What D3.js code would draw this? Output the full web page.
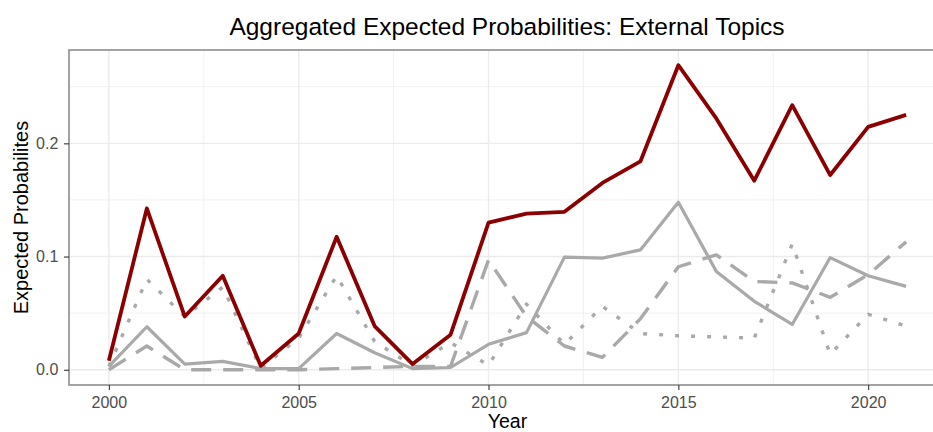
<!DOCTYPE html>
<html>
<head>
<meta charset="utf-8">
<script src="https://cdn.jsdelivr.net/npm/d3@7"></script>
<style>
  html, body { margin: 0; padding: 0; background: #fff; }
  svg { display: block; font-family: "Liberation Sans", Arial, sans-serif; }
</style>
</head>
<body>
<svg id="chart" width="933" height="432"></svg>
<script>
const years = d3.range(2000, 2022);
const seriesRed    = [0.008,0.1425,0.047,0.083,0.0035,0.032,0.1175,0.0386,0.005,0.031,0.130,0.138,0.1395,0.165,0.184,0.269,0.222,0.167,0.2337,0.172,0.2146,0.2252];
const seriesSolid  = [0.003,0.038,0.005,0.0074,0.001,0.001,0.032,0.015,0.001,0.002,0.0225,0.0328,0.0995,0.0986,0.1059,0.148,0.0869,0.0605,0.040,0.0991,0.083,0.0737];
const seriesDashed = [0.0,0.021,0.0,0.0,0.0,0.0,0.001,0.002,0.003,0.003,0.097,0.047,0.021,0.011,0.045,0.091,0.1015,0.078,0.0767,0.064,0.084,0.113];
const seriesDotted = [0.003,0.080,0.047,0.073,0.001,0.028,0.083,0.025,0.0035,0.024,0.004,0.058,0.0225,0.056,0.032,0.030,0.029,0.028,0.111,0.0137,0.049,0.0386];
const xTicks = [2000, 2005, 2010, 2015, 2020];
const yTicks = [0.0, 0.1, 0.2];
const xMinor = [2002.5, 2007.5, 2012.5, 2017.5];
const yMinor = [0.05, 0.15, 0.25];

const svg = d3.select("#chart");
const pLeft = 69, pRight = 946, pTop = 50, pBottom = 385;

const allVals = seriesRed.concat(seriesSolid, seriesDashed, seriesDotted);
const yMin = d3.min(allVals), yMax = d3.max(allVals);
const yPad = (yMax - yMin) * 0.05;
const xPad = (d3.max(years) - d3.min(years)) * 0.05;

const x = d3.scaleLinear().domain([d3.min(years) - xPad, d3.max(years) + xPad]).range([pLeft, pRight]);
const y = d3.scaleLinear().domain([yMin - yPad, yMax + yPad]).range([pBottom, pTop]);

svg.append("rect").attr("width", 933).attr("height", 432).attr("fill", "#fff");

const defs = svg.append("defs");
defs.append("clipPath").attr("id", "clip").append("rect")
  .attr("x", pLeft).attr("y", pTop).attr("width", pRight - pLeft).attr("height", pBottom - pTop);

const grid = svg.append("g");
grid.selectAll(".ymin").data(yMinor).enter().append("line")
  .attr("x1", pLeft).attr("x2", pRight).attr("y1", d => y(d)).attr("y2", d => y(d))
  .attr("stroke", "#EBEBEB").attr("stroke-width", 0.7);
grid.selectAll(".xmin").data(xMinor).enter().append("line")
  .attr("y1", pTop).attr("y2", pBottom).attr("x1", d => x(d)).attr("x2", d => x(d))
  .attr("stroke", "#EBEBEB").attr("stroke-width", 0.7);
grid.selectAll(".ymaj").data(yTicks).enter().append("line")
  .attr("x1", pLeft).attr("x2", pRight).attr("y1", d => y(d)).attr("y2", d => y(d))
  .attr("stroke", "#EBEBEB").attr("stroke-width", 1.4);
grid.selectAll(".xmaj").data(xTicks).enter().append("line")
  .attr("y1", pTop).attr("y2", pBottom).attr("x1", d => x(d)).attr("x2", d => x(d))
  .attr("stroke", "#EBEBEB").attr("stroke-width", 1.4);

const line = d3.line().x((d, i) => x(years[i])).y(d => y(d));
const gLines = svg.append("g").attr("clip-path", "url(#clip)");

gLines.append("path").datum(seriesDotted).attr("d", line)
  .attr("fill", "none").attr("stroke", "#A9A9A9").attr("stroke-width", 3.4)
  .attr("stroke-dasharray", "4,12").attr("stroke-linejoin", "round");
gLines.append("path").datum(seriesDashed).attr("d", line)
  .attr("fill", "none").attr("stroke", "#A9A9A9").attr("stroke-width", 3.4)
  .attr("stroke-dasharray", "20,12").attr("stroke-linejoin", "round");
gLines.append("path").datum(seriesSolid).attr("d", line)
  .attr("fill", "none").attr("stroke", "#A9A9A9").attr("stroke-width", 3.2)
  .attr("stroke-linejoin", "round");
gLines.append("path").datum(seriesRed).attr("d", line)
  .attr("fill", "none").attr("stroke", "#8B0000").attr("stroke-width", 3.8)
  .attr("stroke-linejoin", "round");

// panel border
svg.append("rect").attr("x", pLeft).attr("y", pTop).attr("width", pRight - pLeft).attr("height", pBottom - pTop)
  .attr("fill", "none").attr("stroke", "#8c8c8c").attr("stroke-width", 1.6);

// axes
const xAxis = d3.axisBottom(x).tickValues(xTicks).tickFormat(d3.format("d")).tickSize(5).tickPadding(6.5);
const gx = svg.append("g").attr("transform", `translate(0,${pBottom})`).call(xAxis);
gx.select(".domain").remove();
gx.selectAll("line").attr("stroke", "#333").attr("stroke-width", 1.1);
gx.selectAll("text").attr("fill", "#4D4D4D").attr("font-size", 16).attr("font-family", "Liberation Sans, Arial, sans-serif");

const yAxis = d3.axisLeft(y).tickValues(yTicks).tickFormat(d3.format(".1f")).tickSize(5).tickPadding(5.7);
const gy = svg.append("g").attr("transform", `translate(${pLeft},0)`).call(yAxis);
gy.select(".domain").remove();
gy.selectAll("line").attr("stroke", "#333").attr("stroke-width", 1.1);
gy.selectAll("text").attr("fill", "#4D4D4D").attr("font-size", 16).attr("font-family", "Liberation Sans, Arial, sans-serif");

// titles
svg.append("text").attr("x", 507).attr("y", 35).attr("text-anchor", "middle")
  .attr("font-size", 24.5).attr("fill", "#000").text("Aggregated Expected Probabilities: External Topics");
svg.append("text").attr("x", (pLeft + pRight) / 2).attr("y", 428).attr("text-anchor", "middle")
  .attr("font-size", 19.5).attr("fill", "#000").text("Year");
svg.append("text").attr("transform", `translate(28,${(pTop + pBottom) / 2}) rotate(-90)`).attr("text-anchor", "middle")
  .attr("font-size", 20).attr("fill", "#000").text("Expected Probabilites");
</script>
</body>
</html>
